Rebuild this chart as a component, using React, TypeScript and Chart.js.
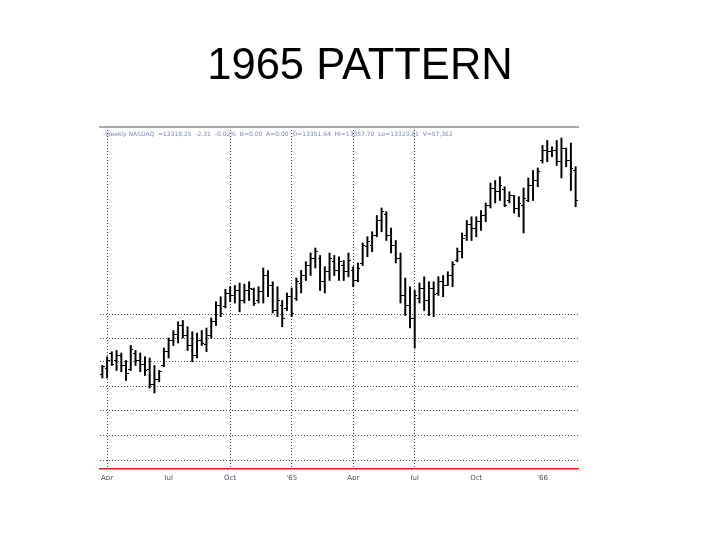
import React, { useEffect, useRef } from "react";
import { Chart, registerables } from "chart.js";

Chart.register(...registerables);

// ---- data (weekly bars, late Mar 1964 .. Feb 1966) ----
const highs = [
  798, 805, 809, 810, 808, 802, 814, 810, 808, 805, 804, 798, 794, 812, 820, 826, 833, 834, 829, 825,
  824, 826, 828, 836, 849, 853, 859, 861, 862, 864, 863, 865, 860, 861, 876, 874, 865, 861, 850, 856,
  860, 868, 874, 881, 888, 892, 886, 877, 888, 886, 885, 882, 888, 877, 880, 896, 901, 905, 918, 924,
  921, 908, 898, 888, 868, 861, 858, 864, 869, 865, 865, 869, 870, 873, 881, 892, 904, 914, 917, 917,
  922, 928, 944, 946, 949, 941, 937, 934, 933, 940, 948, 954, 956, 974, 978, 973, 978, 980, 972, 976,
  957,
];
const lows = [
  788, 788, 798, 794, 793, 786, 794, 798, 793, 790, 780, 776, 785, 797, 804, 814, 816, 820, 810, 801,
  804, 814, 809, 820, 830, 837, 844, 849, 848, 841, 848, 850, 846, 848, 848, 853, 840, 837, 829, 842,
  837, 850, 856, 866, 870, 876, 858, 856, 866, 870, 866, 866, 869, 861, 865, 878, 885, 889, 901, 905,
  898, 888, 880, 848, 838, 828, 812, 848, 842, 838, 837, 854, 853, 862, 861, 881, 884, 898, 898, 901,
  906, 913, 924, 928, 930, 925, 928, 920, 917, 904, 929, 930, 941, 960, 961, 965, 958, 948, 957, 938,
  925,
];
const opens = [
  791, 796, 808, 802, 806, 798, 795, 808, 802, 799, 795, 783, 787, 798, 809, 818, 823, 830, 822, 814,
  806, 818, 815, 822, 833, 846, 845, 856, 854, 858, 850, 858, 859, 850, 857, 870, 862, 842, 846, 844,
  853, 852, 864, 870, 878, 884, 884, 865, 873, 881, 874, 878, 873, 874, 866, 880, 893, 894, 902, 914,
  919, 902, 894, 884, 854, 846, 836, 852, 860, 850, 860, 856, 865, 862, 870, 882, 889, 902, 911, 908,
  913, 918, 926, 940, 937, 939, 930, 934, 924, 926, 930, 942, 946, 962, 970, 969, 970, 961, 972, 962,
  954,
];
const closes = [
  797, 802, 799, 806, 798, 792, 811, 802, 799, 794, 783, 787, 793, 809, 818, 823, 830, 822, 814, 806,
  818, 816, 822, 833, 846, 840, 856, 854, 858, 850, 858, 860, 848, 857, 870, 862, 842, 850, 836, 853,
  840, 865, 870, 878, 884, 889, 865, 873, 884, 874, 881, 873, 882, 866, 876, 894, 897, 902, 914, 921,
  902, 894, 884, 854, 846, 836, 854, 860, 850, 860, 855, 865, 862, 870, 879, 889, 900, 911, 908, 913,
  918, 926, 940, 937, 942, 926, 934, 924, 928, 932, 942, 946, 953, 970, 969, 970, 961, 972, 962, 956,
  930,
];

const startWeek = "1964-03-27";
const tickWeeks = [1, 14, 27, 40, 53, 66, 79, 93];
const tickLabels = ["Apr", "Jul", "Oct", "'65", "Apr", "Jul", "Oct", "'66"];
const gridWeeks = [1, 27, 40, 53, 66];
const gridValues = [722, 742, 762, 781, 801, 820, 839];
const yMin = 715.2;
const yMax = 988.8;

const titleText = "1965 PATTERN";
const headerText =
  "-Weekly NASDAQ  =13318.25  -2.31  -0.02%  B=0.00  A=0.00  O=13351.64  Hi=13357.70  Lo=13323.81  V=57,362";

function buildWeeks(): string[] {
  const out: string[] = [];
  const d0 = new Date(startWeek + "T00:00:00Z");
  for (let i = 0; i < highs.length; i++) {
    const d = new Date(d0.getTime() + i * 7 * 86400000);
    out.push(d.toISOString().slice(0, 10));
  }
  return out;
}

function makeTick(side: "left" | "right"): HTMLCanvasElement {
  const c = document.createElement("canvas");
  c.width = 5;
  c.height = 1;
  const g = c.getContext("2d")!;
  g.fillStyle = "#000";
  if (side === "left") g.fillRect(0, 0, 2, 1);
  else g.fillRect(3, 0, 2, 1);
  return c;
}

const headerPlugin = {
  id: "headerText",
  afterDatasetsDraw(chart: any) {
    const { ctx, chartArea } = chart;
    ctx.save();
    ctx.font = "6px 'DejaVu Sans'";
    ctx.fillStyle = "#7b88a8";
    ctx.textBaseline = "middle";
    ctx.textAlign = "left";
    ctx.fillText(headerText, chartArea.left + 3, chartArea.top + 7);
    ctx.restore();
  },
};

export default function App() {
  const ref = useRef<HTMLCanvasElement | null>(null);

  useEffect(() => {
    if (!ref.current) return;
    const weeks = buildWeeks();
    const leftTick = makeTick("left");
    const rightTick = makeTick("right");

    const chart = new Chart(ref.current, {
      type: "bar",
      data: {
        labels: weeks,
        datasets: [
          {
            type: "bar",
            label: "range",
            data: lows.map((l, i) => [l, highs[i]]) as any,
            backgroundColor: "#000",
            barThickness: 1.3,
            grouped: false,
            borderWidth: 0,
          } as any,
          {
            type: "line",
            label: "open",
            data: opens,
            showLine: false,
            pointStyle: leftTick as any,
            pointRadius: 2,
          } as any,
          {
            type: "line",
            label: "close",
            data: closes,
            showLine: false,
            pointStyle: rightTick as any,
            pointRadius: 2,
          } as any,
        ],
      },
      options: {
        responsive: false,
        animation: false,
        devicePixelRatio: 1,
        layout: { padding: { left: 100, right: 100, top: 0, bottom: 60 } },
        plugins: {
          legend: { display: false },
          tooltip: { enabled: false },
          title: {
            display: true,
            text: titleText,
            color: "#000",
            font: { family: "'Liberation Sans', Arial, sans-serif", size: 43.5, weight: "normal", lineHeight: 1.2 },
            padding: { top: 41, bottom: 33.8 },
          },
        },
        scales: {
          x: {
            type: "category",
            offset: true,
            grid: {
              display: true,
              offset: false,
              drawTicks: false,
              color: (c: any) => (gridWeeks.includes(c.index) ? "#444" : "rgba(0,0,0,0)"),
              lineWidth: 1,
            },
            border: { display: true, color: "#e81c1c", width: 1.6, dash: [1, 2] },
            ticks: {
              autoSkip: false,
              maxRotation: 0,
              minRotation: 0,
              padding: 5,
              color: "#4a5060",
              font: { family: "'DejaVu Sans'", size: 7 },
              callback: (_v: any, i: number) => {
                const k = tickWeeks.indexOf(i);
                return k >= 0 ? tickLabels[k] : "";
              },
            },
            afterFit: (s: any) => {
              s.height = 11;
            },
          },
          xTop: {
            type: "category",
            position: "top",
            offset: true,
            grid: { display: false, drawTicks: false },
            ticks: { display: false },
            border: { display: true, color: "#aaa", width: 2 },
            afterFit: (s: any) => {
              s.height = 0;
            },
          },
          y: {
            type: "linear",
            min: yMin,
            max: yMax,
            grid: { display: true, drawTicks: false, color: "#555", lineWidth: 1 },
            border: { display: false, dash: [1, 2] },
            ticks: { display: false },
            afterBuildTicks: (s: any) => {
              s.ticks = gridValues.map((v) => ({ value: v }));
            },
            afterFit: (s: any) => {
              s.width = 0;
            },
          },
          yR: {
            type: "linear",
            position: "right",
            grid: { display: false, drawTicks: false },
            ticks: { display: false },
            border: { display: false },
            afterFit: (s: any) => {
              s.width = 42;
            },
          },
        },
      } as any,
      plugins: [headerPlugin],
    });
    return () => chart.destroy();
  }, []);

  return (
    <div style={{ position: "fixed", left: 0, top: 0, width: 720, height: 540, background: "#fff" }}>
      <canvas ref={ref} width={720} height={540} />
    </div>
  );
}
